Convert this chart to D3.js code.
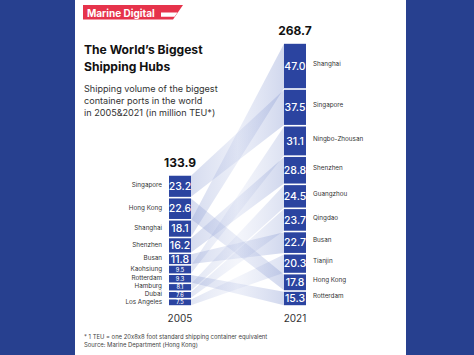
<!DOCTYPE html>
<html><head><meta charset="utf-8">
<script src="https://cdn.jsdelivr.net/npm/d3@7"></script>
<style>html,body{margin:0;padding:0;background:#fff;}svg{display:block;}</style>
</head><body>
<script>
const years = ["2005", "2021"];
const totals = [133.9, 268.7];
const ports2005 = ["Singapore","Hong Kong","Shanghai","Shenzhen","Busan","Kaohsiung","Rotterdam","Hamburg","Dubai","Los Angeles"];
const values2005 = [23.2,22.6,18.1,16.2,11.8,9.5,9.3,8.1,7.6,7.5];
const ports2021 = ["Shanghai","Singapore","Ningbo-Zhousan","Shenzhen","Guangzhou","Qingdao","Busan","Tianjin","Hong Kong","Rotterdam"];
const values2021 = [47.0,37.5,31.1,28.8,24.5,23.7,22.7,20.3,17.8,15.3];
// ribbons: same port in both years, plus faint decorative bands from the ports that left the list
const sameLinks = [["Singapore","Singapore"],["Hong Kong","Hong Kong"],["Shanghai","Shanghai"],["Shenzhen","Shenzhen"],["Busan","Busan"],["Rotterdam","Rotterdam"]];
const fadeLinks = [["Kaohsiung","Ningbo-Zhousan"],["Hamburg","Guangzhou"],["Dubai","Qingdao"],["Los Angeles","Tianjin"]];
const titleLines = ["The World\u2019s Biggest", "Shipping Hubs"];
const subtitleLines = ["Shipping volume of the biggest", "container ports in the world", "in 2005&2021 (in million TEU*)"];
const footnotes = ["* 1 TEU = one 20x8x8 foot standard shipping container equivalent", "Source: Marine Department (Hong Kong)"];

const W = 474, H = 355;
const FONT = "Inter, 'Noto Sans', sans-serif";
const NAVY = "#27408f", BAR = "#2b44a0";
const svg = d3.select("body").append("svg").attr("width", W).attr("height", H);

// frame
svg.append("rect").attr("width", W).attr("height", H).attr("fill", NAVY);
svg.append("rect").attr("x", 75).attr("y", 0).attr("width", 331).attr("height", H).attr("fill", "#fff");

// logo
svg.append("path").attr("d", "M83,5H183L173,19.5H83Z").attr("fill", "#e6334b");
svg.append("text").attr("x", 87).attr("y", 17).attr("font-family", FONT).attr("font-weight", 700)
  .attr("font-size", 10).attr("fill", "#fff").text("Marine Digital");
svg.append("path").attr("d", "M161,12.5H177.5L174.5,16.8H161Z").attr("fill", "#fff");

// titles
svg.append("g").selectAll("text").data(titleLines).join("text")
  .attr("x", 84).attr("y", (d, i) => 54 + i * 17)
  .attr("font-family", FONT).attr("font-weight", 700).attr("font-size", 12.1).attr("fill", "#111")
  .text(d => d);
svg.append("g").selectAll("text").data(subtitleLines).join("text")
  .attr("x", 84).attr("y", (d, i) => 92 + i * 12)
  .attr("font-family", FONT).attr("font-size", 9.1).attr("fill", "#333")
  .text(d => d);
svg.append("g").selectAll("text").data(footnotes).join("text")
  .attr("x", 84).attr("y", (d, i) => 339 + i * 8)
  .attr("font-family", FONT).attr("font-size", 5.9).attr("fill", "#444")
  .style("font-feature-settings", "'calt' 0")
  .text(d => d);

// scales
const x = d3.scalePoint().domain(years).range([180, 295]);
const bw = 22;
const y = d3.scaleLinear().domain([0, d3.max(totals)]).range([306, 43]);
const gap = 1.6;

function stack(ports, values, total) {
  let cum = 0;
  return ports.map((p, i) => {
    const top = total - cum;
    cum += values[i];
    return { port: p, value: values[i], y0: y(top), y1: y(total - cum) };
  });
}
const s2005 = stack(ports2005, values2005, totals[0]);
const s2021 = stack(ports2021, values2021, totals[1]);

// ribbons
const defs = svg.append("defs");
function makeGrad(id, a, b) {
  const g = defs.append("linearGradient").attr("id", id).attr("x1", "0").attr("x2", "1");
  g.append("stop").attr("offset", "0").attr("stop-color", "#8c9dd3").attr("stop-opacity", a);
  g.append("stop").attr("offset", "0.5").attr("stop-color", "#b0bce3").attr("stop-opacity", b);
  g.append("stop").attr("offset", "1").attr("stop-color", "#8c9dd3").attr("stop-opacity", a + 0.04);
}
makeGrad("rib", 0.36, 0.24);
makeGrad("ribFade", 0.26, 0.14);
const xl = x("2005") + bw / 2, xr = x("2021") - bw / 2;
function ribbon(pairs, fill) {
  const data = pairs.map(([p, q]) => ({ a: s2005.find(d => d.port === p), b: s2021.find(d => d.port === q) }));
  svg.append("g").selectAll("path").data(data).join("path")
    .attr("d", d => `M${xl},${d.a.y0 + gap / 2}L${xr},${d.b.y0 + gap / 2}L${xr},${d.b.y1 - gap / 2}L${xl},${d.a.y1 - gap / 2}Z`)
    .attr("fill", fill);
}
ribbon(fadeLinks, "url(#ribFade)");
ribbon(sameLinks, "url(#rib)");

// bars
function drawStack(data, year, labelSide) {
  const g = svg.append("g");
  const cx = x(year);
  g.selectAll("rect").data(data).join("rect")
    .attr("x", cx - bw / 2).attr("width", bw)
    .attr("y", d => d.y0 + gap / 2).attr("height", d => d.y1 - d.y0 - gap)
    .attr("fill", BAR);
  g.selectAll("text.v").data(data).join("text").attr("class", "v")
    .attr("x", cx).attr("y", d => (d.y0 + d.y1) / 2)
    .attr("dy", "0.36em").attr("text-anchor", "middle")
    .attr("font-family", FONT).attr("font-weight", 500)
    .attr("font-size", d => d.value >= 11 ? 10.5 : 5.5).attr("fill", "#fff")
    .text(d => d.value.toFixed(1));
  g.selectAll("text.p").data(data).join("text").attr("class", "p")
    .attr("x", labelSide === "left" ? cx - bw / 2 - 7 : cx + bw / 2 + 7)
    .attr("y", d => (d.y0 + d.y1) / 2 - (labelSide === "left" ? 1 : 2.5))
    .attr("dy", "0.35em").attr("text-anchor", labelSide === "left" ? "end" : "start")
    .attr("font-family", FONT).attr("font-size", 6.3).attr("fill", "#333")
    .text(d => d.port);
}
drawStack(s2005, "2005", "left");
drawStack(s2021, "2021", "right");

// totals and years
svg.append("g").selectAll("text").data(years).join("text")
  .attr("x", d => x(d)).attr("y", (d, i) => y(totals[i]) - 8)
  .attr("text-anchor", "middle").attr("font-family", FONT).attr("font-weight", 700)
  .attr("font-size", 12).attr("fill", "#111")
  .text((d, i) => totals[i].toFixed(1));
svg.append("g").selectAll("text").data(years).join("text")
  .attr("x", d => x(d)).attr("y", 322)
  .attr("text-anchor", "middle").attr("font-family", FONT)
  .attr("font-size", 10).attr("fill", "#333")
  .text(d => d);
</script>
</body></html>
